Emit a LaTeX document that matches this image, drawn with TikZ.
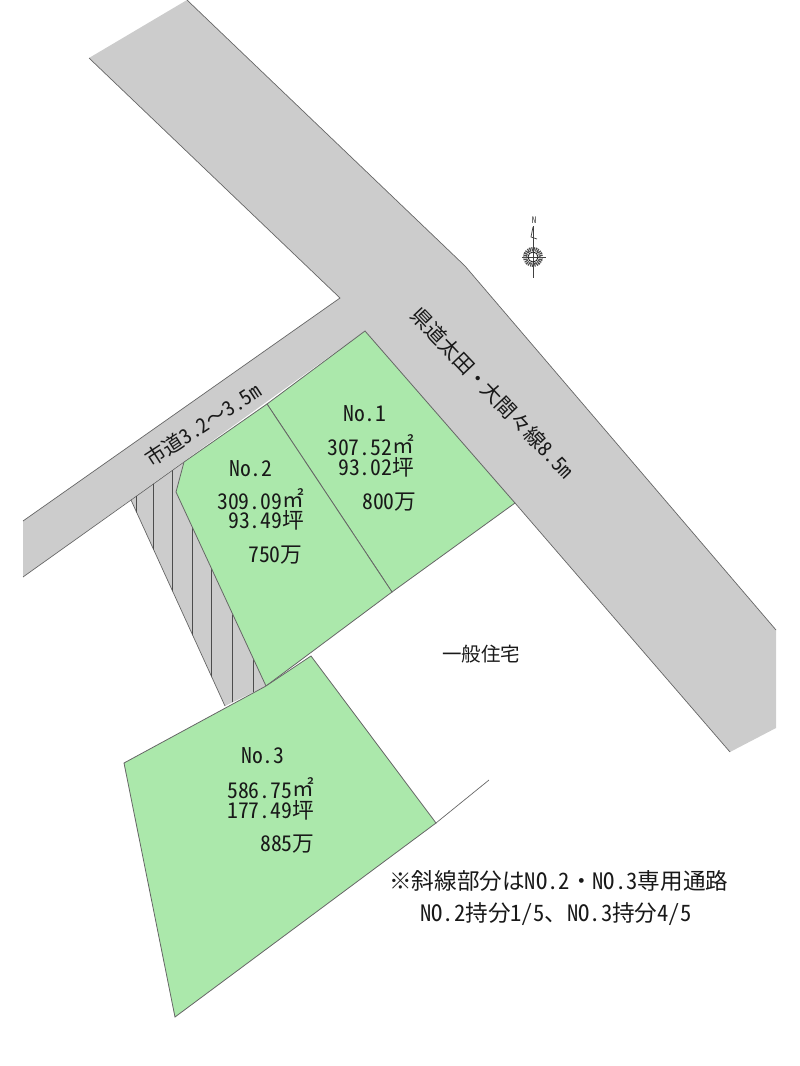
\documentclass[tikz,border=0pt]{standalone}
\usepackage{fontspec}
\setmainfont{Noto Sans CJK JP}[RawFeature=+hwid]
\newfontfamily\cjk{Noto Sans CJK JP}
\newcommand{\J}[1]{{\cjk #1}}
\newcommand{\Sqm}{\raisebox{1.5pt}{\cjk ㎡}}
\definecolor{lotgreen}{HTML}{ABE8AB}
\definecolor{roadgrey}{HTML}{CCCCCC}
\definecolor{edgegrey}{HTML}{666666}
\tikzset{
  lot/.style={fill=lotgreen,draw=edgegrey,line width=0.8pt},
  roadedge/.style={draw=edgegrey,line width=0.7pt},
  hatchline/.style={draw=black!70,line width=0.8pt},
  lbl/.style={inner sep=0pt,anchor=base west,font=\fontsize{21.7}{22}\selectfont,text=black!90},
  roadlbl/.style={inner sep=0pt,font=\fontsize{20.5}{22}\selectfont,text=black!90},
  houselbl/.style={inner sep=0pt,font=\fontsize{19.5}{22}\selectfont,text=black!90},
  notelbl/.style={inner sep=0pt,anchor=base west,font=\fontsize{22.6}{24}\selectfont,text=black!90},
}
\begin{document}
\begin{tikzpicture}[x=1pt,y=-1pt]
\useasboundingbox (0,0) rectangle (800,1066);
% roads
\fill[roadgrey] (187,0) -- (89,58) -- (340,298) -- (23,521) -- (23,577) -- (365,331) -- (515,503) -- (730,752) -- (776,728) -- (776,630) -- (465,266) -- cycle;
\draw[roadedge] (187,0) -- (465,266) -- (776,630);
\draw[roadedge] (89,58) -- (340,298) -- (23,521);
\draw[roadedge] (23,577) -- (131,500);
\draw[roadedge] (515,503) -- (730,752);
% hatched access
\coordinate (h1) at (131,500);
\coordinate (h2) at (184,462);
\coordinate (h3) at (176,492);
\coordinate (h4) at (266,686);
\coordinate (h5) at (225,706);
\fill[roadgrey] (h1) -- (h2) -- (h3) -- (h4) -- (h5) -- cycle;
\draw[roadedge] (h1) -- (h5);
\draw[roadedge] (h1) -- (h2);
\begin{scope}
\clip (h1) -- (h2) -- (h3) -- (h4) -- (h5) -- cycle;
\foreach \x in {136,153,172,192,211,232,253} \draw[hatchline] (\x,450) -- (\x,720);
\end{scope}
% lots
\draw[lot] (267,404) -- (365,331) -- (515,503) -- (392,592) -- cycle;
\draw[lot] (267,404) -- (392,592) -- (266,686) -- (176,492) -- (184,462) -- cycle;
\draw[lot] (124,763) -- (266,686) -- (311,656) -- (436,823) -- (175,1017) -- cycle;
\coordinate (lotcorner) at (436,823);
\coordinate (fenceend) at (489,780);
\draw[roadedge] (lotcorner) -- (fenceend);
% north mark
\coordinate (nc) at (533,257);
\draw[black!75,line width=0.7pt] (533,226) -- (533,278);
\draw[black!75,line width=0.7pt] (522,257) -- (546,257);
\draw[black!70,line width=4pt,dash pattern=on 1.2pt off 0.8pt] (nc) circle (8);
\draw[black!85,line width=0.9pt] (nc) circle (5);
\draw[black!75,line width=0.7pt] (533,227) -- (531,237) -- (537,239);
\node[inner sep=0pt,font=\fontsize{9}{9}\selectfont,text=black!80] (north) at (534,220) {N};
% labels
\node[lbl] (n1) at (343,421) {No.1};
\node[lbl] (a1) at (327,455) {307.52\Sqm};
\node[lbl] (b1) at (338,475) {93.02\J{坪}};
\node[lbl] (p1) at (362,509) {800\J{万}};
\node[lbl] (n2) at (229,476) {No.2};
\node[lbl] (a2) at (217,509) {309.09\Sqm};
\node[lbl] (b2) at (228,528) {93.49\J{坪}};
\node[lbl] (p2) at (248,562) {750\J{万}};
\node[lbl] (n3) at (241,763) {No.3};
\node[lbl] (a3) at (227,798) {586.75\Sqm};
\node[lbl] (b3) at (227,818) {177.49\J{坪}};
\node[lbl] (p3) at (260,851) {885\J{万}};
\node[houselbl,anchor=west] (house) at (442,654) {\J{一般住宅}};
\node[roadlbl,anchor=center,rotate=-46.4] (r1) at (492.5,393) {\J{県道太田・大間々線}8.5m};
\node[roadlbl,anchor=center,rotate=33] (r2) at (203,425) {\J{市道}3.2\J{〜}3.5m};
\node[notelbl] (note1) at (389,889) {\J{※斜線部分は}NO.2\J{・}NO.3\J{専用通路}};
\node[notelbl] (note2) at (420,921) {NO.2\J{持分}1/5\J{、}NO.3\J{持分}4/5};
\end{tikzpicture}
\end{document}
